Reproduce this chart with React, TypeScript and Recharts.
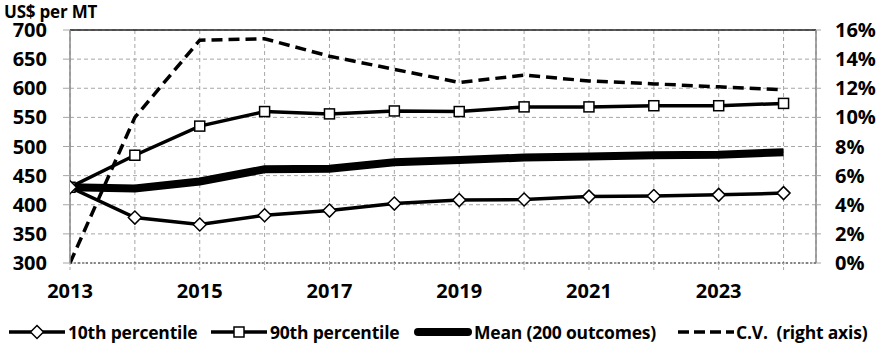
import {
  CartesianGrid,
  Line,
  LineChart,
  ReferenceLine,
  XAxis,
  YAxis,
} from "recharts";

const years = [2013, 2014, 2015, 2016, 2017, 2018, 2019, 2020, 2021, 2022, 2023, 2024];
const p10 = [430, 378, 366, 382, 390, 402, 408, 409, 414, 415, 417, 420];
const p90 = [430, 485, 535, 560, 556, 561, 560, 568, 568, 570, 570, 574];
const mean = [430, 428, 440, 461, 462, 473, 477, 481, 483, 485, 486, 490];
const cv = [0, 10.0, 15.3, 15.4, 14.2, 13.3, 12.4, 12.9, 12.5, 12.3, 12.1, 11.9];

const leftTicks = [300, 350, 400, 450, 500, 550, 600, 650, 700];
const rightTicks = [0, 2, 4, 6, 8, 10, 12, 14, 16];

const data = years.map((year, i) => ({
  year,
  p10: p10[i],
  p90: p90[i],
  mean: mean[i],
  cv: cv[i],
}));

const font = "'Open Sans', 'Liberation Sans', sans-serif";
const tickStyle = { fill: "#000", fontSize: 20, fontWeight: 700, fontFamily: font };

type DotProps = { cx?: number; cy?: number; index?: number };

function Diamond({ cx = 0, cy = 0, index }: DotProps) {
  const r = 6.5;
  return (
    <path
      key={`d-${index}`}
      d={`M${cx},${cy - r}L${cx + r},${cy}L${cx},${cy + r}L${cx - r},${cy}Z`}
      fill="#fff"
      stroke="#000"
      strokeWidth={1.5}
    />
  );
}

function Square({ cx = 0, cy = 0, index }: DotProps) {
  const r = 5;
  return (
    <rect
      key={`s-${index}`}
      x={cx - r}
      y={cy - r}
      width={r * 2}
      height={r * 2}
      fill="#fff"
      stroke="#000"
      strokeWidth={1.5}
    />
  );
}

function LegendItem({
  left,
  label,
  kind,
}: {
  left: number;
  label: string;
  kind: "diamond" | "square" | "mean" | "cv";
}) {
  return (
    <div
      style={{
        position: "absolute",
        left,
        top: 320,
        display: "flex",
        alignItems: "center",
        fontFamily: font,
        fontWeight: 700,
        fontSize: 17.5,
        whiteSpace: "pre",
        letterSpacing: -0.2,
      }}
    >
      <svg width={58} height={24} style={{ marginRight: 2 }}>
        {kind === "diamond" || kind === "square" ? (
          <>
            <line x1={1} y1={12} x2={57} y2={12} stroke="#000" strokeWidth={3.5} />
            {kind === "diamond" ? <Diamond cx={29} cy={12} /> : <Square cx={29} cy={12} />}
          </>
        ) : null}
        {kind === "mean" ? (
          <line x1={4} y1={12} x2={54} y2={12} stroke="#000" strokeWidth={8} strokeLinecap="round" />
        ) : null}
        {kind === "cv" ? (
          <line x1={2} y1={12} x2={58} y2={12} stroke="#000" strokeWidth={3.5} strokeDasharray="11 5" />
        ) : null}
      </svg>
      {label}
    </div>
  );
}

export default function App() {
  return (
    <div style={{ position: "absolute", left: 0, top: 0, width: 884, height: 348, background: "#fff" }}>
      <div
        style={{
          position: "absolute",
          left: 4,
          top: 0,
          fontFamily: font,
          fontWeight: 700,
          fontSize: 17,
          letterSpacing: -0.2,
        }}
      >
        US$ per MT
      </div>
      <LineChart
        width={884}
        height={310}
        data={data}
        margin={{ top: 30, right: 0, bottom: 0, left: 0 }}
      >
        <CartesianGrid
          yAxisId="left"
          stroke="#a6a6a6"
          strokeDasharray="4 3"
        />
        <XAxis
          dataKey="year"
          type="number"
          domain={[2013, 2024.5]}
          ticks={years}
          tickFormatter={(v: number) => (v % 2 === 1 ? String(v) : "")}
          height={47}
          axisLine={{ stroke: "#333", strokeDasharray: "2 2" }}
          tickLine={{ stroke: "#a6a6a6", strokeDasharray: "3 2" }}
          tickSize={7}
          tickMargin={14}
          tick={tickStyle}
          allowDataOverflow
        />
        <YAxis
          yAxisId="left"
          domain={[300, 700]}
          ticks={leftTicks}
          width={70}
          axisLine={{ stroke: "#888", strokeWidth: 1.5 }}
          tickLine={{ stroke: "#a6a6a6" }}
          tickSize={7}
          tickMargin={16}
          tick={tickStyle}
        />
        <YAxis
          yAxisId="right"
          orientation="right"
          domain={[0, 16]}
          ticks={rightTicks}
          width={68}
          axisLine={{ stroke: "#888", strokeWidth: 1.5 }}
          tickLine={{ stroke: "#a6a6a6" }}
          tickFormatter={(v: number) => `${v}%`}
          tickSize={5}
          tickMargin={14}
          tick={tickStyle}
        />
        <ReferenceLine yAxisId="left" y={700} stroke="#222" strokeWidth={1.5} />
        <Line
          yAxisId="right"
          dataKey="cv"
          stroke="#000"
          strokeWidth={3.5}
          strokeDasharray="11 6"
          dot={false}
          isAnimationActive={false}
        />
        <Line
          yAxisId="left"
          dataKey="mean"
          stroke="#000"
          strokeWidth={8}
          dot={false}
          isAnimationActive={false}
        />
        <Line
          yAxisId="left"
          dataKey="p90"
          stroke="#000"
          strokeWidth={3.5}
          dot={(props: DotProps) => <Square {...props} />}
          isAnimationActive={false}
        />
        <Line
          yAxisId="left"
          dataKey="p10"
          stroke="#000"
          strokeWidth={3.5}
          dot={(props: DotProps) => <Diamond {...props} />}
          isAnimationActive={false}
        />
      </LineChart>
      <LegendItem left={8} label="10th percentile" kind="diamond" />
      <LegendItem left={210} label="90th percentile" kind="square" />
      <LegendItem left={414} label="Mean (200 outcomes)" kind="mean" />
      <LegendItem left={676} label="C.V.  (right axis)" kind="cv" />
    </div>
  );
}
